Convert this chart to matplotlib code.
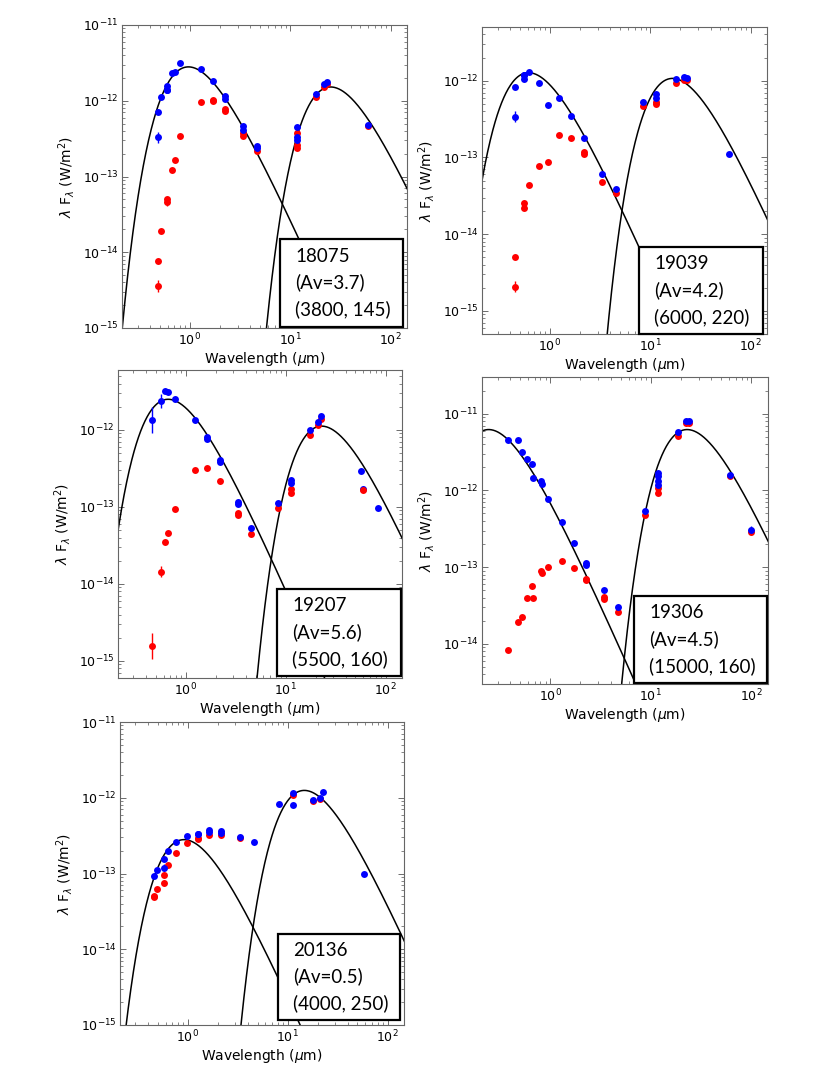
import numpy as np
import matplotlib
matplotlib.use("Agg")
import matplotlib.pyplot as plt
from matplotlib.patches import Rectangle
from matplotlib.ticker import FixedLocator, NullFormatter, LogFormatterSciNotation

# ---------------- panel parameters ----------------
names = ["18075", "19039", "19207", "19306", "20136"]
av_values = ["3.7", "4.2", "5.6", "4.5", "0.5"]
t_star = [3800, 6000, 5500, 15000, 4000]
t_dust = [145, 220, 160, 160, 250]
peak_star = [2.8e-12, 1.27e-12, 2.5e-12, 6.2e-12, 2.8e-13]
peak_dust = [1.52e-12, 1.07e-12, 1.12e-12, 6.2e-12, 1.25e-12]
ylims = [(1e-15, 1e-11), (5e-16, 5e-12), (6e-16, 6e-12), (3e-15, 3e-11), (1e-15, 1e-11)]
xlim = (0.21, 146)

# ---------------- data: 18075 ----------------
p1_blue_wl = [0.478, 0.516, 0.587, 0.587, 0.663, 0.710, 0.802, 1.30, 1.70, 2.22, 2.22,
              3.37, 3.37, 4.68, 4.68, 11.6, 11.6, 11.6, 18.1, 21.9, 23.1, 59.7]
p1_blue_f = [7.0e-13, 1.11e-12, 1.57e-12, 1.37e-12, 2.35e-12, 2.42e-12, 3.19e-12, 2.63e-12,
             1.84e-12, 1.16e-12, 1.06e-12, 4.65e-13, 4.1e-13, 2.55e-13, 2.4e-13, 4.45e-13,
             3.35e-13, 3.05e-13, 1.23e-12, 1.66e-12, 1.79e-12, 4.79e-13]
p1_red_wl = [0.478, 0.516, 0.587, 0.663, 0.710, 0.802, 1.30, 1.70, 1.70, 2.22, 2.22,
             3.37, 3.37, 4.68, 11.6, 11.6, 11.6, 18.1, 21.9, 23.1, 59.7]
p1_red_f = [7.65e-15, 1.9e-14, 5.05e-14, 1.22e-13, 1.65e-13, 3.46e-13, 9.7e-13, 1.02e-12,
            1.0e-12, 7.78e-13, 7.3e-13, 3.7e-13, 3.4e-13, 2.2e-13, 3.7e-13, 2.6e-13,
            2.4e-13, 1.11e-12, 1.5e-12, 1.66e-12, 4.7e-13]
p1_eb_wl = [0.478, 0.587, 0.478, 0.587]
p1_eb_f = [3.3e-13, 1.37e-12, 3.6e-15, 4.6e-14]
p1_eb_dex = [0.075, 0.04, 0.08, 0.05]
p1_eb_col = ["blue", "blue", "red", "red"]

# ---------------- data: 19039 ----------------
p2_blue_wl = [0.444, 0.551, 0.551, 0.619, 0.774, 0.962, 1.24, 1.63, 2.17, 3.27, 4.59,
              8.4, 11.45, 11.45, 17.9, 21.8, 23.5, 60.5]
p2_blue_f = [8.2e-13, 1.19e-12, 1.04e-12, 1.29e-12, 9.2e-13, 4.77e-13, 5.9e-13, 3.5e-13,
             1.81e-13, 6.1e-14, 3.84e-14, 5.27e-13, 6.6e-13, 6.0e-13, 1.05e-12, 1.1e-12,
             1.07e-12, 1.12e-13]
p2_red_wl = [0.444, 0.551, 0.551, 0.619, 0.774, 0.962, 1.24, 1.63, 2.17, 2.17, 3.27, 4.59,
             8.4, 11.45, 11.45, 17.9, 21.8, 23.5]
p2_red_f = [5.0e-15, 2.52e-14, 2.2e-14, 4.33e-14, 7.7e-14, 8.8e-14, 1.96e-13, 1.77e-13,
            1.19e-13, 1.11e-13, 4.83e-14, 3.4e-14, 4.72e-13, 5.3e-13, 4.9e-13, 9.4e-13,
            1.02e-12, 1.02e-12]
p2_eb_wl = [0.444, 0.551, 0.444]
p2_eb_f = [3.4e-13, 1.19e-12, 2.07e-15]
p2_eb_dex = [0.07, 0.04, 0.07]
p2_eb_col = ["blue", "blue", "red"]

# ---------------- data: 19207 ----------------
p3_blue_wl = [0.624, 0.668, 0.778, 1.24, 1.64, 1.64, 2.19, 2.19, 3.30, 3.30, 4.52,
              8.3, 11.2, 11.2, 17.6, 21.0, 22.7, 57.4, 84.0]
p3_blue_f = [3.23e-12, 3.07e-12, 2.52e-12, 1.35e-12, 8.04e-13, 7.6e-13, 4.09e-13, 3.8e-13,
             1.16e-13, 1.1e-13, 5.33e-14, 1.12e-13, 2.27e-13, 2.05e-13, 1.0e-12, 1.28e-12,
             1.5e-12, 2.97e-13, 9.8e-14]
p3_red_wl = [0.624, 0.668, 0.778, 1.24, 1.64, 2.19, 3.30, 3.30, 4.52, 8.3, 11.2, 11.2,
             17.6, 21.0, 22.7]
p3_red_f = [3.47e-14, 4.64e-14, 9.3e-14, 3.06e-13, 3.19e-13, 2.19e-13, 8.4e-14, 7.9e-14,
            4.4e-14, 9.8e-14, 1.72e-13, 1.53e-13, 8.6e-13, 1.16e-12, 1.39e-12]
p3_eb_wl = [0.46, 0.565, 60.1, 0.46, 0.565, 60.1]
p3_eb_f = [1.35e-12, 2.4e-12, 1.72e-13, 1.57e-15, 1.44e-14, 1.65e-13]
p3_eb_dex = [0.17, 0.09, 0.04, 0.17, 0.075, 0.04]
p3_eb_col = ["blue", "blue", "blue", "red", "red", "red"]

# ---------------- data: 19306 ----------------
p4_blue_wl = [0.381, 0.48, 0.522, 0.585, 0.656, 0.667, 0.807, 0.82, 0.955, 1.31, 1.71,
              2.27, 2.27, 3.43, 4.76, 8.78, 11.7, 11.7, 11.7, 11.7, 18.6, 22.2, 23.9, 61.8]
p4_blue_f = [4.6e-12, 4.5e-12, 3.15e-12, 2.53e-12, 2.18e-12, 1.46e-12, 1.32e-12, 1.2e-12,
             7.64e-13, 3.92e-13, 2.05e-13, 1.13e-13, 1.07e-13, 5.08e-14, 2.99e-14, 5.4e-13,
             1.69e-12, 1.52e-12, 1.34e-12, 1.16e-12, 5.73e-12, 7.95e-12, 7.95e-12, 1.57e-12]
p4_red_wl = [0.381, 0.48, 0.522, 0.585, 0.656, 0.667, 0.807, 0.82, 0.955, 1.31, 1.71,
             2.27, 2.27, 3.43, 3.43, 4.76, 8.78, 11.7, 11.7, 18.6, 22.2, 23.9, 61.8]
p4_red_f = [8.35e-15, 1.91e-14, 2.26e-14, 4.0e-14, 5.73e-14, 4.0e-14, 8.95e-14, 8.4e-14,
            1.01e-13, 1.19e-13, 9.7e-14, 7.1e-14, 6.8e-14, 4.03e-14, 3.9e-14, 2.58e-14,
            4.83e-13, 1.08e-12, 9.3e-13, 5.08e-12, 7.56e-12, 7.56e-12, 1.55e-12]
p4_eb_wl = [100.0, 100.0]
p4_eb_f = [2.9e-13, 3.02e-13]
p4_eb_dex = [0.05, 0.05]
p4_eb_col = ["red", "blue"]

# ---------------- data: 20136 ----------------
p5_blue_wl = [0.457, 0.497, 0.574, 0.638, 0.766, 0.977, 1.26, 1.26, 1.64, 1.64, 2.17, 2.17,
              3.30, 4.58, 8.24, 11.2, 11.2, 17.8, 21.0, 22.7, 57.8]
p5_blue_f = [9.3e-14, 1.11e-13, 1.55e-13, 1.97e-13, 2.62e-13, 3.08e-13, 3.37e-13, 3.3e-13,
             3.73e-13, 3.55e-13, 3.62e-13, 3.45e-13, 3.01e-13, 2.64e-13, 8.37e-13, 1.14e-12,
             8.1e-13, 9.27e-13, 1.0e-12, 1.19e-12, 9.9e-14]
p5_red_wl = [0.457, 0.457, 0.497, 0.574, 0.638, 0.766, 0.977, 1.26, 1.26, 1.64, 2.17, 3.30,
             11.2, 17.8, 21.0]
p5_red_f = [4.92e-14, 5.1e-14, 6.28e-14, 9.7e-14, 1.29e-13, 1.87e-13, 2.49e-13, 2.95e-13,
            2.85e-13, 3.27e-13, 3.24e-13, 2.92e-13, 1.08e-12, 9.0e-13, 9.7e-13]
p5_eb_wl = [0.574, 0.574]
p5_eb_f = [7.46e-14, 1.2e-13]
p5_eb_dex = [0.04, 0.04]
p5_eb_col = ["red", "blue"]

blue_sets = [(p1_blue_wl, p1_blue_f), (p2_blue_wl, p2_blue_f), (p3_blue_wl, p3_blue_f),
             (p4_blue_wl, p4_blue_f), (p5_blue_wl, p5_blue_f)]
red_sets = [(p1_red_wl, p1_red_f), (p2_red_wl, p2_red_f), (p3_red_wl, p3_red_f),
            (p4_red_wl, p4_red_f), (p5_red_wl, p5_red_f)]
eb_sets = [(p1_eb_wl, p1_eb_f, p1_eb_dex, p1_eb_col), (p2_eb_wl, p2_eb_f, p2_eb_dex, p2_eb_col),
           (p3_eb_wl, p3_eb_f, p3_eb_dex, p3_eb_col), (p4_eb_wl, p4_eb_f, p4_eb_dex, p4_eb_col),
           (p5_eb_wl, p5_eb_f, p5_eb_dex, p5_eb_col)]

# ---------------- layout (figure pixels: left, top, right, bottom) ----------------
W, H = 830, 1075
axes_px = [(122, 25, 407, 328), (482, 27, 767, 334), (118, 370, 402, 678),
           (482, 377, 768, 684), (120, 722, 404, 1025)]
box_px = [(280, 239, 403, 327), (639, 247, 763, 334), (277, 589, 401, 676),
          (634, 596, 767, 683), (278, 934, 400, 1020)]

HC_K = 14387.77  # um K
X_PEAK = 3.92069


def bb_shape(wl, T):
    x = HC_K / (wl * T)
    return (x ** 4 / np.expm1(x)) / (X_PEAK ** 4 / np.expm1(X_PEAK))


def decade_ticks(lo, hi):
    e0, e1 = int(np.floor(np.log10(lo))), int(np.ceil(np.log10(hi)))
    major = [10.0 ** e for e in range(e0, e1 + 1) if lo * 0.999 <= 10.0 ** e <= hi * 1.001]
    minor = [m * 10.0 ** e for e in range(e0, e1 + 1) for m in range(2, 10)
             if lo <= m * 10.0 ** e <= hi]
    return major, minor


fig = plt.figure(figsize=(W / 100, H / 100), dpi=100)
fig.patch.set_facecolor("white")

wl_grid = np.logspace(np.log10(0.1), np.log10(300), 800)
mk = dict(marker="o", linestyle="none", markersize=5.0, markeredgewidth=0)

for i in range(5):
    l, t, r, b = axes_px[i]
    ax = fig.add_axes([l / W, 1 - b / H, (r - l) / W, (b - t) / H])
    ax.set_xscale("log")
    ax.set_yscale("log")
    ax.plot(wl_grid, peak_star[i] * bb_shape(wl_grid, t_star[i]), color="black", lw=1.1, zorder=2)
    ax.plot(wl_grid, peak_dust[i] * bb_shape(wl_grid, t_dust[i]), color="black", lw=1.1, zorder=2)

    ewl, ef, edex, ecol = eb_sets[i]
    for w_, f_, d_, c_ in zip(ewl, ef, edex, ecol):
        lo = f_ - f_ * 10 ** (-d_)
        hi = f_ * 10 ** (d_) - f_
        ax.errorbar([w_], [f_], yerr=[[lo], [hi]], color=c_, elinewidth=1.0, capsize=0,
                    zorder=3, **mk)

    rw, rf = red_sets[i]
    ax.plot(rw, rf, color="red", zorder=3, **mk)
    bw, bf = blue_sets[i]
    ax.plot(bw, bf, color="blue", zorder=4, **mk)

    ax.set_xlim(*xlim)
    ax.set_ylim(*ylims[i])
    xmaj, xmin = decade_ticks(*xlim)
    ymaj, ymin = decade_ticks(*ylims[i])
    ax.xaxis.set_major_locator(FixedLocator(xmaj))
    ax.xaxis.set_minor_locator(FixedLocator(xmin))
    ax.yaxis.set_major_locator(FixedLocator(ymaj))
    ax.yaxis.set_minor_locator(FixedLocator(ymin))
    ax.xaxis.set_major_formatter(LogFormatterSciNotation())
    ax.yaxis.set_major_formatter(LogFormatterSciNotation())
    ax.xaxis.set_minor_formatter(NullFormatter())
    ax.yaxis.set_minor_formatter(NullFormatter())
    ax.tick_params(which="both", direction="in", top=True, right=True, color="#555555",
                   labelsize=9)
    ax.tick_params(axis="x", which="major", pad=3)
    ax.tick_params(axis="y", which="major", pad=2.5)
    ax.tick_params(which="major", length=4, width=0.6)
    ax.tick_params(which="minor", length=2, width=0.5)
    for s in ax.spines.values():
        s.set_color("#666666")
        s.set_linewidth(0.8)
    ax.set_xlabel(r"Wavelength ($\mu$m)", fontsize=10, labelpad=1)
    ax.set_ylabel(r"$\lambda$ F$_\lambda$ (W/m$^2$)", fontsize=10, labelpad=4)

    bl, bt, br, bb = box_px[i]
    fig.patches.append(Rectangle((bl / W, 1 - bb / H), (br - bl) / W, (bb - bt) / H,
                                 transform=fig.transFigure, facecolor="white",
                                 edgecolor="black", linewidth=1.6, zorder=5))
    fig.text((bl + 15) / W, 1 - (bt + bb) / 2 / H,
             f"{names[i]}\n(Av={av_values[i]})\n({t_star[i]}, {t_dust[i]})",
             ha="left", va="center", fontsize=13.5, family="Lato", linespacing=1.6,
             color="black", zorder=6)

fig.savefig("out.png", dpi=100, facecolor="white")
